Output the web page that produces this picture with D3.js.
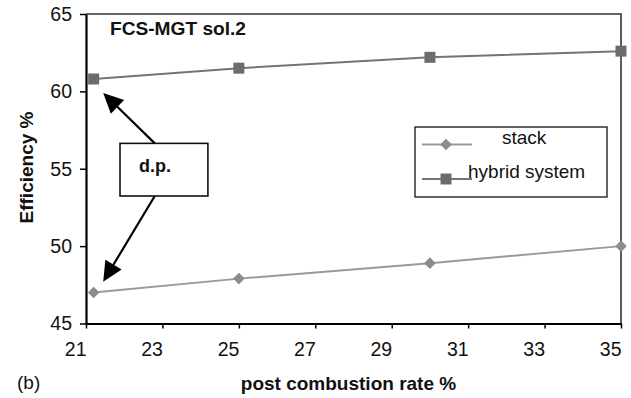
<!DOCTYPE html>
<html>
<head>
<meta charset="utf-8">
<script src="https://cdn.jsdelivr.net/npm/d3@7"></script>
<style>
  html, body { margin: 0; padding: 0; background: #fff; }
  svg { display: block; font-family: "Liberation Sans", Arial, Helvetica, sans-serif; }
</style>
</head>
<body>
<svg id="chart" width="631" height="398"></svg>
<script>
// Post combustion rate (%) at each operating point
const rates = [21.2, 25, 30, 35];
// Efficiency (%) of the fuel-cell stack alone
const stackEff = [47.0, 47.9, 48.9, 50.0];
// Efficiency (%) of the complete hybrid system
const hybridEff = [60.8, 61.5, 62.2, 62.6];

const xTicks = [21, 23, 25, 27, 29, 31, 33, 35];
const yTicks = [45, 50, 55, 60, 65];
const seriesNames = ["stack", "hybrid system"];

const svg = d3.select("#chart");
const plotLeft = 86, plotRight = 621, plotTop = 14, plotBottom = 323.5;

const x = d3.scaleLinear().domain([21, 35]).range([plotLeft, plotRight]);
const y = d3.scaleLinear().domain([45, 65]).range([plotBottom, plotTop]);

const stackColor = "#9a9a9a", stackMark = "#8c8c8c";
const hybridColor = "#747474", hybridMark = "#6c6c6c";

// plot frame (top and right)
svg.append("path")
  .attr("d", `M${plotLeft},${plotTop}H${plotRight}V${plotBottom}`)
  .attr("fill", "none").attr("stroke", "#333").attr("stroke-width", 1.6);

// y axis
const yAxis = svg.append("g")
  .attr("transform", `translate(${plotLeft},0)`)
  .call(d3.axisLeft(y).tickValues(yTicks).tickSize(6).tickSizeOuter(0).tickPadding(8));
yAxis.select(".domain").attr("stroke", "#000").attr("stroke-width", 2.2);
yAxis.selectAll(".tick line").attr("stroke", "#000").attr("stroke-width", 1.5);
yAxis.selectAll(".tick text")
  .attr("font-size", 19.5).attr("fill", "#111")
  .attr("font-family", "Liberation Sans, Arial, sans-serif");

// x axis (labels sit just left of their ticks)
const xAxis = svg.append("g")
  .attr("transform", `translate(0,${plotBottom})`)
  .call(d3.axisBottom(x).tickValues(xTicks).tickSize(5).tickSizeOuter(0).tickPadding(14));
xAxis.select(".domain").attr("stroke", "#000").attr("stroke-width", 2.2);
xAxis.selectAll(".tick line").attr("stroke", "#000").attr("stroke-width", 1.5);
xAxis.selectAll(".tick text")
  .attr("font-size", 19.5).attr("fill", "#111")
  .attr("text-anchor", "end").attr("x", 0)
  .attr("font-family", "Liberation Sans, Arial, sans-serif");

// axis titles
svg.append("text")
  .attr("transform", "translate(33,167.5) rotate(-90)")
  .attr("text-anchor", "middle")
  .attr("font-size", 19).attr("font-weight", "bold").attr("fill", "#111")
  .text("Efficiency %");
svg.append("text")
  .attr("x", 348.5).attr("y", 390)
  .attr("text-anchor", "middle")
  .attr("font-size", 19).attr("font-weight", "bold").attr("fill", "#111")
  .text("post combustion rate %");
svg.append("text")
  .attr("x", 17).attr("y", 389)
  .attr("font-size", 19).attr("fill", "#111")
  .text("(b)");

// chart title inside the frame
svg.append("text")
  .attr("x", 110).attr("y", 35)
  .attr("font-size", 18).attr("font-weight", "bold").attr("fill", "#111")
  .attr("textLength", 136).attr("lengthAdjust", "spacingAndGlyphs")
  .text("FCS-MGT sol.2");

// series
const line = d3.line().x(d => x(d[0])).y(d => y(d[1]));
const stackPts = rates.map((r, i) => [r, stackEff[i]]);
const hybridPts = rates.map((r, i) => [r, hybridEff[i]]);

svg.append("path").datum(stackPts).attr("d", line)
  .attr("fill", "none").attr("stroke", stackColor).attr("stroke-width", 2);
svg.append("path").datum(hybridPts).attr("d", line)
  .attr("fill", "none").attr("stroke", hybridColor).attr("stroke-width", 2);

const diamond = d3.symbol().type(d3.symbolDiamond2).size(85);
const square = d3.symbol().type(d3.symbolSquare).size(121);

svg.append("g").selectAll("path").data(stackPts).join("path")
  .attr("transform", d => `translate(${x(d[0])},${y(d[1])})`)
  .attr("d", diamond).attr("fill", stackMark);
svg.append("g").selectAll("path").data(hybridPts).join("path")
  .attr("transform", d => `translate(${x(d[0])},${y(d[1])})`)
  .attr("d", square).attr("fill", hybridMark);

// design point annotation: box with two arrows
const box = { x0: 21.89, x1: 24.19, y0: 56.64, y1: 53.24 };
const tail = 22.8;
const arrows = [
  { from: [tail, box.y0], to: [21.45, 59.9] },
  { from: [tail, box.y1], to: [21.45, 47.7] }
];
const headLen = 20, headHalf = 9.5;
arrows.forEach(a => {
  const x1 = x(a.from[0]), y1 = y(a.from[1]);
  const x2 = x(a.to[0]), y2 = y(a.to[1]);
  const len = Math.hypot(x2 - x1, y2 - y1);
  const ux = (x2 - x1) / len, uy = (y2 - y1) / len;
  const bx = x2 - ux * headLen, by = y2 - uy * headLen;
  svg.append("line")
    .attr("x1", x1).attr("y1", y1).attr("x2", bx + ux * 2).attr("y2", by + uy * 2)
    .attr("stroke", "#000").attr("stroke-width", 2.2);
  svg.append("path")
    .attr("d", `M${x2},${y2}L${bx - uy * headHalf},${by + ux * headHalf}L${bx + uy * headHalf},${by - ux * headHalf}Z`)
    .attr("fill", "#000");
});
svg.append("rect")
  .attr("x", x(box.x0)).attr("y", y(box.y0))
  .attr("width", x(box.x1) - x(box.x0)).attr("height", y(box.y1) - y(box.y0))
  .attr("fill", "#fff").attr("stroke", "#111").attr("stroke-width", 1.6);
svg.append("text")
  .attr("x", 139).attr("y", 172)
  .attr("font-size", 18).attr("font-weight", "bold").attr("fill", "#111")
  .text("d.p.");

// legend
const lg = svg.append("g");
lg.append("rect").attr("x", 415).attr("y", 127).attr("width", 192).attr("height", 70)
  .attr("fill", "#fff").attr("stroke", "#222").attr("stroke-width", 1.4);
const legendRows = [
  { name: seriesNames[0], color: stackColor, mark: stackMark, sym: diamond, y: 144.5, tx: 502, ty: 144 },
  { name: seriesNames[1], color: hybridColor, mark: hybridMark, sym: square, y: 179, tx: 468, ty: 178 }
];
legendRows.forEach(r => {
  lg.append("line").attr("x1", 422).attr("x2", 472).attr("y1", r.y).attr("y2", r.y)
    .attr("stroke", r.color).attr("stroke-width", 2);
  lg.append("path").attr("transform", `translate(446,${r.y})`).attr("d", r.sym).attr("fill", r.mark);
  lg.append("text").attr("x", r.tx).attr("y", r.ty)
    .attr("font-size", 19).attr("fill", "#111").text(r.name);
});
</script>
</body>
</html>
